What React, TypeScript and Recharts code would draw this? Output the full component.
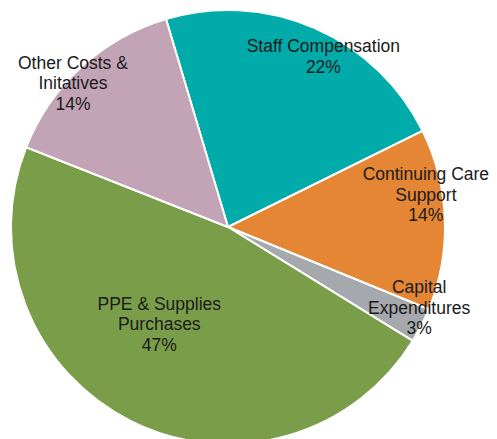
import React from 'react';
import { PieChart, Pie, Cell } from 'recharts';

// Spending categories, clockwise from the top
const CATEGORIES = ['Staff Compensation', 'Continuing Care Support', 'Capital Expenditures', 'PPE & Supplies Purchases', 'Other Costs & Initatives'];
const SHARES = [22.3, 13.5, 2.6, 47.2, 14.4];
const LABEL_LINES = [
  ['Staff Compensation', '22%'],
  ['Continuing Care', 'Support', '14%'],
  ['Capital', 'Expenditures', '3%'],
  ['PPE & Supplies', 'Purchases', '47%'],
  ['Other Costs &', 'Initatives', '14%'],
];

const COLORS = ['#00ABA9', '#E48634', '#A5A8AC', '#7A9D4A', '#C3A3B6'];

// label placement: fraction of radius + angle shift (deg) from slice middle
const LABEL_PLACE = [
  { r: 0.9, da: -5.7 },
  { r: 0.924, da: 7.25 },
  { r: 0.956, da: 4.1 },
  { r: 0.548, da: -8.7 },
  { r: 0.975, da: 4.6 },
];

const data = CATEGORIES.map((name, i) => ({ name, value: SHARES[i] }));

const RAD = Math.PI / 180;
const LINE_H = 20.5;

const renderLabel = (props: any) => {
  const { cx, cy, midAngle, outerRadius, index } = props;
  const place = LABEL_PLACE[index];
  const ang = (midAngle + place.da) * RAD;
  const x = cx + outerRadius * place.r * Math.cos(ang);
  const y = cy - outerRadius * place.r * Math.sin(ang);
  const lines = LABEL_LINES[index];
  const top = y - ((lines.length - 1) * LINE_H) / 2;
  return (
    <text
      x={x}
      y={top}
      textAnchor="middle"
      dominantBaseline="central"
      fill="#1a1a1a"
      fontSize={17.5}
      fontFamily="'Liberation Sans', Arial, sans-serif"
    >
      {lines.map((l, i) => (
        <tspan key={i} x={x} y={top + i * LINE_H}>{l}</tspan>
      ))}
    </text>
  );
};

const App: React.FC = () => {
  return (
    <div style={{ position: 'absolute', left: 0, top: 0, width: 497, height: 439, background: '#fff' }}>
      <PieChart width={497} height={439} margin={{ top: 0, right: 0, bottom: 0, left: 0 }}>
        <Pie
          data={data}
          dataKey="value"
          nameKey="name"
          cx={228}
          cy={227}
          outerRadius={217}
          startAngle={106.6}
          endAngle={-253.4}
          stroke="#fff"
          strokeWidth={2}
          label={renderLabel}
          labelLine={false}
          isAnimationActive={false}
        >
          {data.map((d, i) => (
            <Cell key={d.name} fill={COLORS[i]} />
          ))}
        </Pie>
      </PieChart>
    </div>
  );
};

export default App;
